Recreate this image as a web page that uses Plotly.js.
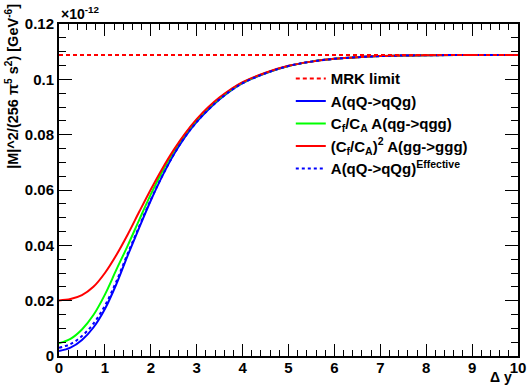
<!DOCTYPE html>
<html>
<head>
<meta charset="utf-8">
<script src="https://cdn.plot.ly/plotly-3.0.1.min.js"></script>
<style>html,body{margin:0;padding:0;background:#fff;}#chart{width:532px;height:387px;}</style>
</head>
<body>
<div id="chart"></div>
<script>
// Δy values (x axis)
const dy = [0,0.25,0.5,0.75,1.0,1.25,1.5,1.75,2.0,2.25,2.5,2.75,3.0,3.25,3.5,3.75,4.0,4.5,5.0,5.5,6.0,6.5,7.0,7.5,8.0,9.0,10.0];
// values in units of 1e-12 GeV^-6
const qQ  = [0.0018,0.0030,0.0058,0.0103,0.0170,0.0260,0.0365,0.0465,0.0562,0.0650,0.0728,0.0793,0.0846,0.0890,0.0928,0.0960,0.0986,0.1022,0.1048,0.1064,0.1074,0.1080,0.1084,0.1086,0.1087,0.1088,0.1088];
const qg  = [0.0046,0.0062,0.0096,0.0148,0.0222,0.0312,0.0400,0.0493,0.0584,0.0667,0.0740,0.0802,0.0853,0.0896,0.0932,0.0963,0.0988,0.1023,0.1048,0.1064,0.1074,0.1080,0.1084,0.1086,0.1087,0.1088,0.1088];
const gg  = [0.0201,0.0206,0.0220,0.0250,0.0300,0.0365,0.0440,0.0522,0.0602,0.0677,0.0745,0.0805,0.0856,0.0899,0.0935,0.0965,0.0990,0.1024,0.1049,0.1064,0.1074,0.1080,0.1084,0.1086,0.1087,0.1088,0.1088];
const eff = [0.0030,0.0043,0.0072,0.0117,0.0182,0.0270,0.0372,0.0470,0.0565,0.0651,0.0728,0.0793,0.0846,0.0890,0.0928,0.0960,0.0986,0.1022,0.1048,0.1064,0.1074,0.1080,0.1084,0.1086,0.1087,0.1088,0.1088];
const mrkX = [0, 10];
const mrk = [0.1088, 0.1088];

const names = [
  'MRK limit',
  'A(qQ->qQg)',
  'C<sub>f</sub>/C<sub>A</sub> A(qg->qgg)',
  '(C<sub>f</sub>/C<sub>A</sub>)<sup>2</sup> A(gg->ggg)',
  'A(qQ->qQg)<sup>Effective</sup>'
];

const traces = [
  {x: dy, y: qQ, name: names[1], legendrank: 2, legendgroup: 'b', mode: 'lines', line: {color: '#0000ff', width: 2, shape: 'spline'}},
  {x: dy, y: qg, name: names[2], legendrank: 3, legendgroup: 'c', mode: 'lines', line: {color: '#00ff00', width: 2, shape: 'spline'}},
  {x: dy, y: gg, name: names[3], legendrank: 4, legendgroup: 'd', mode: 'lines', line: {color: '#ff0000', width: 2, shape: 'spline'}},
  {x: dy, y: eff, name: names[4], legendrank: 5, legendgroup: 'e', mode: 'lines', line: {color: '#0000ff', width: 2, dash: '3px,3px', shape: 'spline'}},
  {x: mrkX, y: mrk, name: names[0], legendrank: 1, legendgroup: 'a', mode: 'lines', line: {color: '#ff0000', width: 2, dash: '4px,3px'}}
];

const fnt = {family: 'Liberation Sans, Arial, sans-serif', size: 15, color: '#000', weight: 'bold'};

const layout = {
  width: 532, height: 387,
  margin: {l: 59, r: 14, t: 24, b: 31},
  paper_bgcolor: '#fff', plot_bgcolor: '#fff',
  font: fnt,
  showlegend: true,
  legend: {x: 0.505, y: 0.885, xanchor: 'left', yanchor: 'top', bgcolor: 'rgba(0,0,0,0)',
           font: {family: 'Liberation Sans, Arial, sans-serif', size: 15, color: '#000', weight: 'bold'},
           tracegroupgap: 5, itemwidth: 30, traceorder: 'normal'},
  xaxis: {range: [0, 10], dtick: 1, tick0: 0, ticks: 'inside', ticklen: 12, tickwidth: 1, tickcolor: '#000',
          showline: true, linecolor: '#000', linewidth: 2, mirror: 'allticks', showgrid: false, zeroline: false,
          tickfont: fnt, ticklabelstandoff: -3,
          minor: {dtick: 0.2, ticks: 'inside', ticklen: 6, tickcolor: '#000', tickwidth: 1, showgrid: false}},
  yaxis: {range: [0, 0.12], dtick: 0.02, tick0: 0, ticks: 'inside', ticklen: 13, tickwidth: 1, tickcolor: '#000',
          showline: true, linecolor: '#000', linewidth: 2, mirror: 'allticks', showgrid: false, zeroline: false,
          tickfont: fnt,
          minor: {dtick: 0.005, ticks: 'inside', ticklen: 7, tickcolor: '#000', tickwidth: 1, showgrid: false}},
  annotations: [
    {text: '|M|^2/(256 π<sup>5</sup> s<sup>2</sup>) [GeV<sup>-6</sup>]', textangle: -90, xref: 'paper', yref: 'paper',
     x: -0.104, y: 1.066, xanchor: 'center', yanchor: 'top', showarrow: false,
     font: {family: 'Liberation Sans, Arial, sans-serif', size: 14.5, color: '#000', weight: 'bold'}},
    {text: '×10<sup>-12</sup>', xref: 'paper', yref: 'paper', x: 0.0, y: 1.0, xanchor: 'left', yanchor: 'bottom', yshift: 0,
     showarrow: false, font: {family: 'Liberation Sans, Arial, sans-serif', size: 14, color: '#000'}},
    {text: 'Δ y', xref: 'paper', yref: 'paper', x: 0.992, y: -0.094, xanchor: 'right', yanchor: 'bottom',
     showarrow: false, font: {family: 'Liberation Sans, Arial, sans-serif', size: 14, color: '#000', weight: 'bold'}}
  ]
};

Plotly.newPlot('chart', traces, layout, {displayModeBar: false, staticPlot: true});
</script>
</body>
</html>
